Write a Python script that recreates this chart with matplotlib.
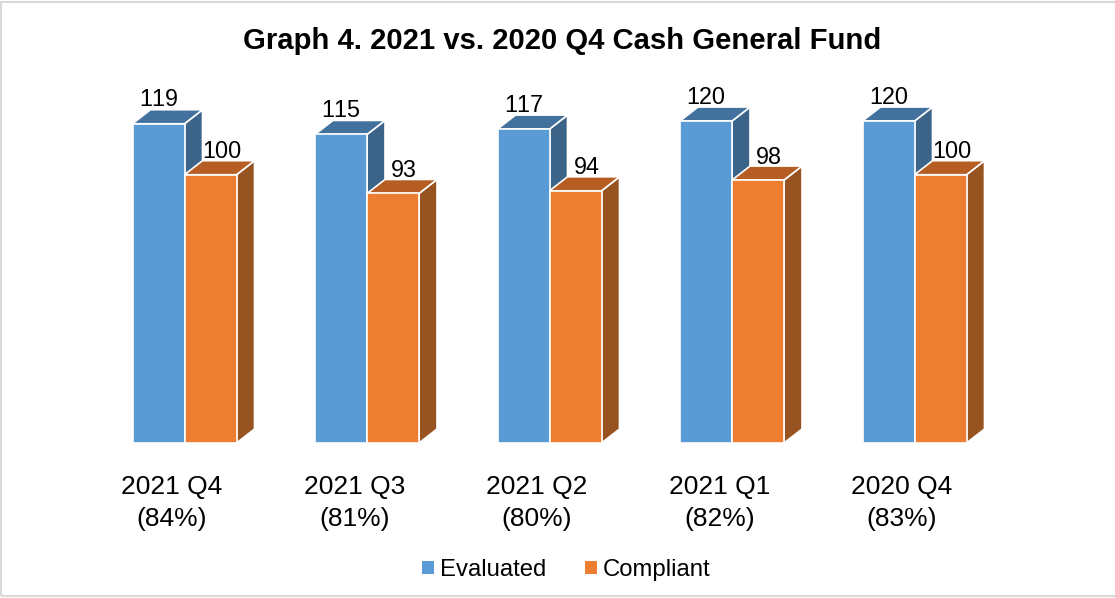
import matplotlib
matplotlib.use("Agg")
import matplotlib.pyplot as plt
from matplotlib.patches import Patch, Polygon, Rectangle
from matplotlib.transforms import ScaledTranslation
import numpy as np

plt.rcParams['font.family'] = ['Liberation Sans', 'DejaVu Sans']
plt.rcParams['text.kerning_factor'] = 6

quarters = ['2021 Q4', '2021 Q3', '2021 Q2', '2021 Q1', '2020 Q4']
shares = ['(84%)', '(81%)', '(80%)', '(82%)', '(83%)']
evaluated = [119, 115, 117, 120, 120]
compliant = [100, 93, 94, 98, 100]

W, H = 1115, 598
fig = plt.figure(figsize=(W / 100, H / 100), dpi=100)

# outer frame
fig.add_artist(Rectangle((0.0005, 0.003), 2, 0.993, transform=fig.transFigure,
                         fc='none', ec='#d9d9d9', lw=1.5))

# axes placed in pixels: baseline at y=443, 182.5 px per category, 2.683 px per unit
ymax = 130
ax_h = 2.683 * ymax
ax = fig.add_axes([(184.5 - 91.25) / W, (H - 443) / H, 912.5 / W, ax_h / H])
ax.set_xlim(-0.5, 4.5)
ax.set_ylim(0, ymax)
for s in ax.spines.values():
    s.set_visible(False)
ax.set_yticks([])
ax.patch.set_alpha(0)

bw = 52 / 182.5
dx = 18 / 182.5
dy = 14 / 2.683
x = np.arange(len(quarters))


def bars3d(xs, vals, front, top, side):
    for xi, v in zip(xs, vals):
        l, r = xi, xi + bw
        ax.add_patch(Polygon([(r, 0), (r + dx, dy), (r + dx, v + dy), (r, v)],
                             fc=side, ec='white', lw=1.2, clip_on=False, zorder=2))
        ax.add_patch(Polygon([(l, v), (l + dx, v + dy), (r + dx, v + dy), (r, v)],
                             fc=top, ec='white', lw=1.2, clip_on=False, zorder=2))
    ax.bar(xs, vals, bw, align='edge', color=front, edgecolor='white', lw=1.2, zorder=3)


bars3d(x - bw, evaluated, '#5b9bd5', '#41719c', '#3b6488')
bars3d(x, compliant, '#ed7d31', '#b55d22', '#975320')

for xi, v in zip(x - bw / 2, evaluated):
    ax.annotate(str(v), (xi, v), xytext=(0, 24), textcoords='offset pixels',
                ha='center', va='center', fontsize=16.8, color='black', zorder=5)
for xi, v in zip(x + bw / 2, compliant):
    ax.annotate(str(v), (xi, v), xytext=(11, 23), textcoords='offset pixels',
                ha='center', va='center', fontsize=16.8, color='black', zorder=5)

ax.set_xticks(x)
ax.set_xticklabels([q + '\n' + s for q, s in zip(quarters, shares)],
                   fontsize=19, linespacing=1.4)
ax.tick_params(axis='x', length=0, pad=23)
shift = ScaledTranslation(-12.5 / 100, 0, fig.dpi_scale_trans)
for lab in ax.get_xticklabels():
    lab.set_transform(lab.get_transform() + shift)

fig.text(562 / W, 1 - 41 / H, 'Graph 4. 2021 vs. 2020 Q4 Cash General Fund',
         ha='center', va='center', fontsize=21.1, fontweight='bold', color='black')

handles = [Patch(fc='#5b9bd5', label='Evaluated'), Patch(fc='#ed7d31', label='Compliant')]
fig.legend(handles=handles, loc='center', bbox_to_anchor=(566 / W, 1 - 570 / H), ncols=2,
           frameon=False, fontsize=17.2, handlelength=0.5, handleheight=0.5,
           handletextpad=0.25, columnspacing=1.63, borderpad=0, labelcolor='black')

fig.savefig('out.png', dpi=100)
